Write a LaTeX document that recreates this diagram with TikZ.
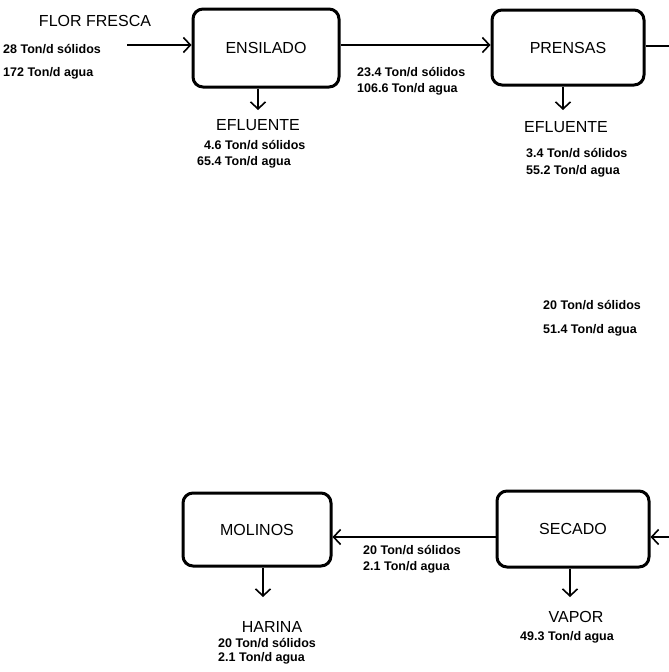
\documentclass[tikz,border=0pt]{standalone}
\usepackage{fontspec}
\setmainfont{Liberation Sans}
\usetikzlibrary{arrows.meta}
\begin{document}
\begin{tikzpicture}[x=1pt,y=-1pt,
  box/.style={draw, line width=3pt, rounded corners=10pt, inner sep=0pt,
              font=\fontsize{16}{18}\selectfont},
  lab/.style={font=\fontsize{16}{18}\selectfont, inner sep=0pt},
  qty/.style={font=\bfseries\fontsize{12.5}{14}\selectfont, inner sep=0pt, anchor=west},
  flow/.style={line width=1.6pt, -{Straight Barb[length=7pt,width=15pt]}},
  plainline/.style={line width=1.6pt}]
\useasboundingbox (0,0) rectangle (669,672);

% boxes
\node[box, minimum width=146pt, minimum height=78pt] (ens) at (266,48) {ENSILADO};
\node[box, minimum width=152pt, minimum height=75pt] (pre) at (568,47.5) {PRENSAS};
\node[box, minimum width=148pt, minimum height=73pt] (mol) at (257,529.5) {MOLINOS};
\node[box, minimum width=152pt, minimum height=76pt] (sec) at (573,529) {SECADO};

% free ends
\coordinate (fin) at (127,45);
\coordinate (preout) at (669,46);
\coordinate (secin) at (669,537);
\coordinate (e1) at (258,110);
\coordinate (e2) at (563,110);
\coordinate (e3) at (263,597);
\coordinate (e4) at (570,597);

% connectors
\draw[flow] (fin) -- (fin -| ens.west);
\draw[flow] ([yshift=3pt]ens.east) -- ([yshift=3pt]ens.east -| pre.west);
\draw[plainline] (preout -| pre.east) -- (preout);
\draw[flow] (e1 |- ens.south) -- (e1);
\draw[flow] (e2 |- pre.south) -- (e2);
\draw[flow] (secin) -- (secin -| sec.east);
\draw[flow] ([yshift=-8pt]sec.west) -- ([yshift=-8pt]sec.west -| mol.east);
\draw[flow] (e3 |- mol.south) -- (e3);
\draw[flow] (e4 |- sec.south) -- (e4);

% texts
\node[lab] (flor) at (95,21) {FLOR FRESCA};
\node[qty] (q1) at (3,49) {28 Ton/d sólidos};
\node[qty] (q2) at (3,73) {172 Ton/d agua};

\node[lab] (ef1) at (258,125) {EFLUENTE};
\node[qty] (q3) at (204,145) {4.6 Ton/d sólidos};
\node[qty] (q4) at (197,162) {65.4 Ton/d agua};

\node[qty] (q5) at (357,72) {23.4 Ton/d sólidos};
\node[qty] (q6) at (357,89) {106.6 Ton/d agua};

\node[lab] (ef2) at (566,127) {EFLUENTE};
\node[qty] (q7) at (526,153) {3.4 Ton/d sólidos};
\node[qty] (q8) at (526,171) {55.2 Ton/d agua};

\node[qty] (q9) at (543,305) {20 Ton/d sólidos};
\node[qty] (q10) at (543,330) {51.4 Ton/d agua};

\node[qty] (q11) at (363,550) {20 Ton/d sólidos};
\node[qty] (q12) at (363,567) {2.1 Ton/d agua};

\node[lab] (har) at (272,627) {HARINA};
\node[qty] (q13) at (218,643) {20 Ton/d sólidos};
\node[qty] (q14) at (218,658) {2.1 Ton/d agua};

\node[lab] (vap) at (576,617) {VAPOR};
\node[qty, anchor=center] (q15) at (567,637) {49.3 Ton/d agua};
\end{tikzpicture}
\end{document}
